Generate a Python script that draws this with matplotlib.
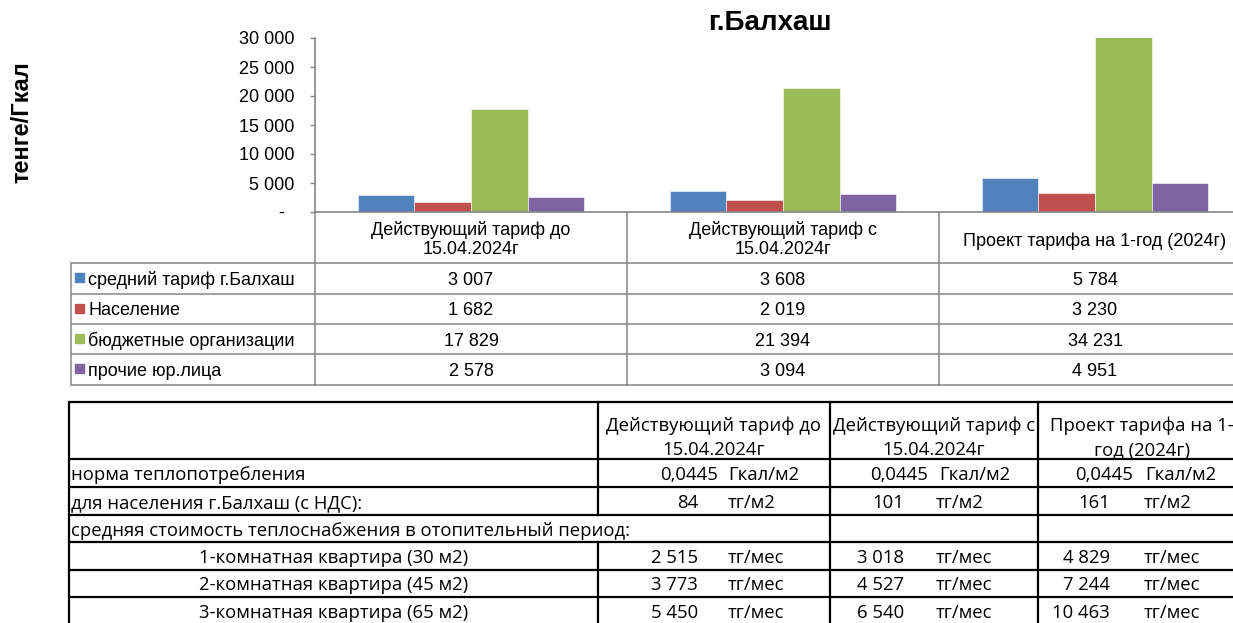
import matplotlib
matplotlib.use("Agg")
import matplotlib.pyplot as plt
from matplotlib.patches import Rectangle

# ---------------- data ----------------
categories = ["Действующий тариф до\n15.04.2024г",
              "Действующий тариф с\n15.04.2024г",
              "Проект тарифа на 1-год (2024г)"]
series_names = ["средний тариф г.Балхаш", "Население",
                "бюджетные организации", "прочие юр.лица"]
avg_tariff = [3007, 3608, 5784]
population = [1682, 2019, 3230]
budget_orgs = [17829, 21394, 34231]
other_legal = [2578, 3094, 4951]
series_colors = ["#4F81BD", "#C0504D", "#9BBB59", "#8064A2"]
y_ticks = [0, 5000, 10000, 15000, 20000, 25000, 30000]

table_headers = ["Действующий тариф до\n15.04.2024г",
                 "Действующий тариф с\n15.04.2024г",
                 "Проект тарифа на 1-\nгод (2024г)"]
row_labels = ["норма теплопотребления",
              "для населения г.Балхаш (с НДС):",
              "средняя стоимость теплоснабжения в отопительный период:",
              "1-комнатная квартира (30 м2)",
              "2-комнатная квартира (45 м2)",
              "3-комнатная квартира (65 м2)"]
heat_norm = [0.0445, 0.0445, 0.0445]
price_per_m2 = [84, 101, 161]
apt_1room = [2515, 3018, 4829]
apt_2room = [3773, 4527, 7244]
apt_3room = [5450, 6540, 10463]

title = "г.Балхаш"
y_label = "тенге/Гкал"


def fmt(v):
    return f"{v:,}".replace(",", " ")


# ---------------- figure ----------------
W, H = 1233, 623
fig = plt.figure(figsize=(W / 100, H / 100), dpi=100)
fig.patch.set_facecolor("white")

ARIAL = "Liberation Sans"
CALIBRI = "Open Sans"
GRAY = "#868686"

# chart axes (pixel geometry: x 315..1251, y 38..212)
x0, x1, ytop, ybot = 315, 1251, 38, 212
ax = fig.add_axes([x0 / W, 1 - ybot / H, (x1 - x0) / W, (ybot - ytop) / H])
series = [avg_tariff, population, budget_orgs, other_legal]
n = len(series)
bw = 1 / (n + 1.5)
xs = list(range(len(categories)))
for i, (vals, col) in enumerate(zip(series, series_colors)):
    ax.bar([x + (i - (n - 1) / 2) * bw for x in xs], vals, width=bw,
           color=col, edgecolor="white", linewidth=0.4, zorder=2)
ax.set_xlim(-0.5, len(categories) - 0.5)
ax.set_ylim(0, 30000)
ax.set_yticks(y_ticks)
ax.set_yticklabels([fmt(v) if v else "-  " for v in y_ticks],
                   fontfamily=ARIAL, fontsize=13)
ax.set_xticks([])
ax.tick_params(axis="y", direction="out", length=3.6, width=1, color=GRAY, pad=11)
for s in ["top", "right"]:
    ax.spines[s].set_visible(False)
for s in ["left", "bottom"]:
    ax.spines[s].set_color(GRAY)
    ax.spines[s].set_linewidth(1.2)
ax.patch.set_alpha(0)

# overlay in pixel coordinates
ov = fig.add_axes([0, 0, 1, 1])
ov.set_xlim(0, W)
ov.set_ylim(H, 0)
ov.axis("off")
ov.patch.set_alpha(0)

ov.text(770, 23, title, fontfamily=ARIAL, fontsize=20, fontweight="bold",
        ha="center", va="center")
ov.text(22, 122, y_label, fontfamily=ARIAL, fontsize=17, fontweight="bold",
        rotation=90, ha="center", va="center")

# ---- chart data table ----
col_edges = [315, 627, 939, 1251]
row_edges = [263, 293.5, 324, 354, 384.5]
lw_g = 1.1
for y in row_edges:
    ov.plot([71, 1251], [y, y], color=GRAY, lw=lw_g, solid_capstyle="butt")
ov.plot([71, 71], [row_edges[0], row_edges[-1]], color=GRAY, lw=lw_g)
for x in col_edges:
    ov.plot([x, x], [212, row_edges[-1]], color=GRAY, lw=lw_g)

for j, cat in enumerate(categories):
    cx = (col_edges[j] + col_edges[j + 1]) / 2
    lines = cat.split("\n")
    if len(lines) == 2:
        ov.text(cx, 228, lines[0], fontfamily=ARIAL, fontsize=13, ha="center", va="center_baseline")
        ov.text(cx, 247, lines[1], fontfamily=ARIAL, fontsize=13, ha="center", va="center_baseline")
    else:
        ov.text(cx, 239, lines[0], fontfamily=ARIAL, fontsize=13, ha="center", va="center_baseline")

for i, (name, vals, col) in enumerate(zip(series_names, series, series_colors)):
    cy = (row_edges[i] + row_edges[i + 1]) / 2
    ov.add_patch(Rectangle((75, cy - 5), 9, 9, color=col))
    ov.text(88, cy, name, fontfamily=ARIAL, fontsize=13, ha="left", va="center_baseline")
    for j, v in enumerate(vals):
        cx = (col_edges[j] + col_edges[j + 1]) / 2
        ov.text(cx, cy, fmt(v), fontfamily=ARIAL, fontsize=13, ha="center", va="center_baseline")

# ---- lower spreadsheet table ----
L, R = 69, 1250
tcols = [598, 830, 1038]
trows = [402, 459, 487, 515, 542, 570, 597, 625]
lw_b = 1.6
for y in trows:
    ov.plot([L, R], [y, y], color="black", lw=lw_b, solid_capstyle="butt")
ov.plot([L, L], [trows[0], trows[-1]], color="black", lw=lw_b)
ov.plot([tcols[0], tcols[0]], [trows[0], trows[3]], color="black", lw=lw_b)
ov.plot([tcols[0], tcols[0]], [trows[4], trows[-1]], color="black", lw=lw_b)
for x in tcols[1:]:
    ov.plot([x, x], [trows[0], trows[-1]], color="black", lw=lw_b)

fs_t = 13.3
hdr_centers = [714, 934, 1142]
for j, h in enumerate(table_headers):
    l1, l2 = h.split("\n")
    ov.text(hdr_centers[j], 424, l1, fontfamily=CALIBRI, fontsize=fs_t, ha="center", va="center_baseline")
    ov.text(hdr_centers[j], 448, l2, fontfamily=CALIBRI, fontsize=fs_t, ha="center", va="center_baseline")

for i, lab in enumerate(row_labels):
    cy = (trows[i + 1] + trows[i + 2]) / 2
    if i < 3:
        ov.text(71, cy, lab, fontfamily=CALIBRI, fontsize=fs_t, ha="left", va="center_baseline")
    else:
        ov.text((L + tcols[0]) / 2, cy, lab, fontfamily=CALIBRI, fontsize=fs_t, ha="center", va="center_baseline")

norm_pos = [(718, 728), (928, 939), (1133, 1145)]
int_pos = [(698, 728), (904, 936), (1110, 1144)]
cy = (trows[1] + trows[2]) / 2
for j, v in enumerate(heat_norm):
    ov.text(norm_pos[j][0], cy, f"{v:.4f}".replace(".", ","), fontfamily=CALIBRI, fontsize=fs_t,
            ha="right", va="center_baseline")
    ov.text(norm_pos[j][1], cy, "Гкал/м2", fontfamily=CALIBRI, fontsize=fs_t, ha="left", va="center_baseline")

value_rows = [(2, price_per_m2, "тг/м2"), (4, apt_1room, "тг/мес"),
              (5, apt_2room, "тг/мес"), (6, apt_3room, "тг/мес")]
for r, vals, unit in value_rows:
    cy = (trows[r] + trows[r + 1]) / 2
    for j, v in enumerate(vals):
        ov.text(int_pos[j][0], cy, fmt(v), fontfamily=CALIBRI, fontsize=fs_t, ha="right", va="center_baseline")
        ov.text(int_pos[j][1], cy, unit, fontfamily=CALIBRI, fontsize=fs_t, ha="left", va="center_baseline")

fig.savefig("out.png", dpi=100)
